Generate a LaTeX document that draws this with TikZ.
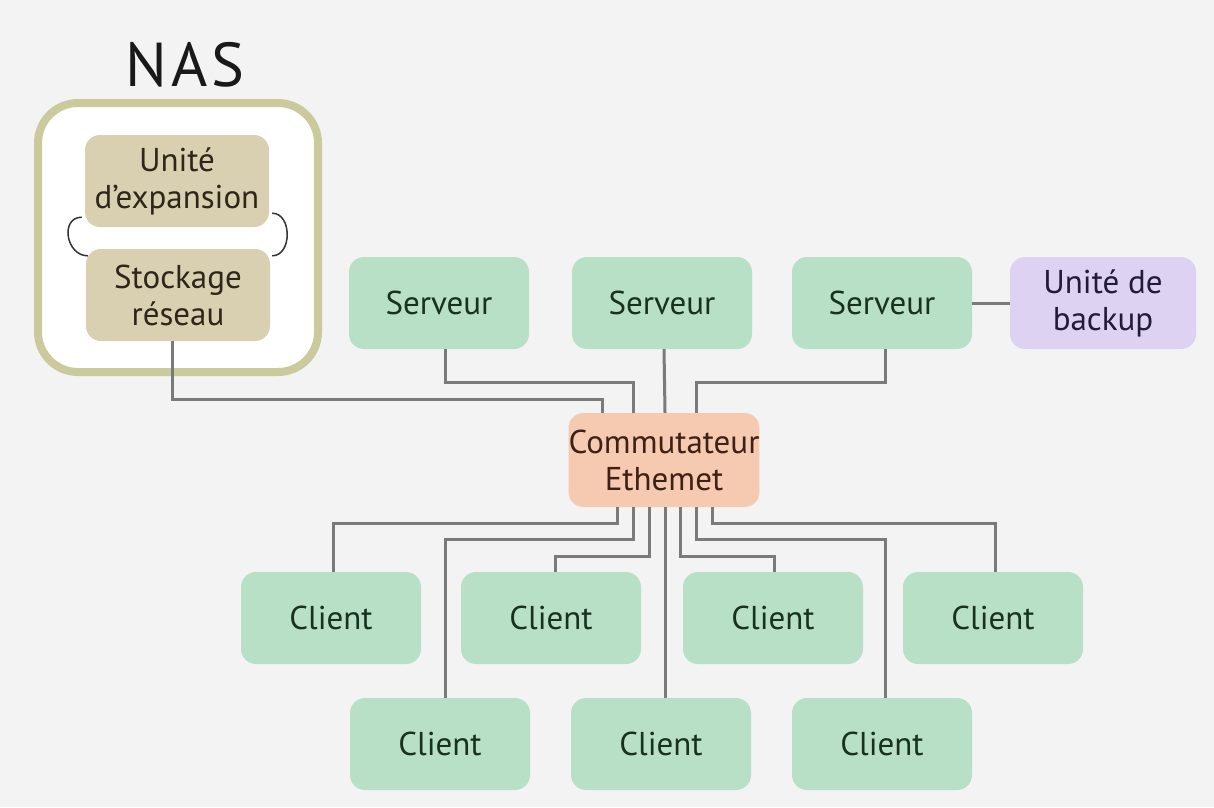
\documentclass[tikz,border=0pt]{standalone}
\usepackage{fontspec}
\setmainfont{PT Sans}
\newfontfamily\nasfont[LetterSpace=6]{PT Sans}
\definecolor{bgc}{HTML}{F3F3F3}
\definecolor{grn}{HTML}{B8E0C6}
\definecolor{grntxt}{HTML}{17321F}
\definecolor{tan}{HTML}{D9CFB1}
\definecolor{tantxt}{HTML}{2E2618}
\definecolor{peach}{HTML}{F5CAB0}
\definecolor{peachtxt}{HTML}{3E2016}
\definecolor{lav}{HTML}{DDD2F2}
\definecolor{lavtxt}{HTML}{221A36}
\definecolor{olive}{HTML}{CACA9C}
\definecolor{wire}{HTML}{7A7A7A}
\tikzset{
  box/.style={rounded corners=15pt, inner sep=0pt, align=center,
    font=\fontsize{33}{37}\selectfont},
  greenbox/.style={box, fill=grn, text=grntxt, minimum width=180pt, minimum height=92pt},
  tanbox/.style={box, fill=tan, text=tantxt, minimum width=184pt, minimum height=92pt},
  conn/.style={draw=wire, line width=3pt},
  link/.style={draw=black!80, line width=1.5pt},
}
\begin{document}
\begin{tikzpicture}[x=1pt,y=-1pt]
\useasboundingbox (0,0) rectangle (1214,807);
\fill[bgc] (0,0) rectangle (1214,807);
% NAS
\node[font=\nasfont\fontsize{62}{62}\selectfont, text=black!90] (nastitle) at (185,65) {NAS};
\draw[olive, line width=8pt, fill=white, rounded corners=40pt] (38,103) rectangle (318,372);
\node[tanbox] (ue) at (177,181) {Unité\\d'expansion};
\node[tanbox] (st) at (178,295) {Stockage\\réseau};
\draw[link] ([shift={(-3,-10)}]ue.south west) .. controls +(-22,0) and +(-22,0) .. ([shift={(2,7)}]st.north west);
\draw[link] ([shift={(3,-14)}]ue.south east) .. controls +(20,0) and +(20,0) .. ([shift={(2,7)}]st.north east);
% servers
\node[greenbox] (s1) at (439,303) {Serveur};
\node[greenbox] (s2) at (662,303) {Serveur};
\node[greenbox] (s3) at (882,303) {Serveur};
\node[box, fill=lav, text=lavtxt, minimum width=186pt, minimum height=92pt] (bk) at (1103,303) {Unité de\\backup};
% switch
\node[box, fill=peach, text=peachtxt, minimum width=188pt, minimum height=94pt] (sw) at (664,460) {Commutateur\\Ethemet};
% clients
\node[greenbox] (c1) at (331,618) {Client};
\node[greenbox] (c2) at (551,618) {Client};
\node[greenbox] (c3) at (773,618) {Client};
\node[greenbox] (c4) at (993,618) {Client};
\node[greenbox] (c5) at (440,744) {Client};
\node[greenbox] (c6) at (661,744) {Client};
\node[greenbox] (c7) at (882,744) {Client};
% connectors top
\draw[conn] ([xshift=-6pt]st.south) -- ++(0,58) -| ([xshift=-62pt]sw.north);
\draw[conn] ([xshift=6pt]s1.south) -- ++(0,33) -| ([xshift=-31pt]sw.north);
\draw[conn] ([xshift=2pt]s2.south) -- ([xshift=1pt]sw.north);
\draw[conn] ([xshift=3pt]s3.south) -- ++(0,33) -| ([xshift=32pt]sw.north);
\draw[conn] (s3.east) -- (bk.west);
% connectors bottom
\draw[conn] ([xshift=-47pt]sw.south) -- ++(0,16) -| ([xshift=2pt]c1.north);
\draw[conn] ([xshift=-31pt]sw.south) -- ++(0,32) -| ([xshift=5pt]c5.north);
\draw[conn] ([xshift=-15pt]sw.south) -- ++(0,49) -| ([xshift=4pt]c2.north);
\draw[conn] ([xshift=1pt]sw.south) -- ([xshift=4pt]c6.north);
\draw[conn] ([xshift=16pt]sw.south) -- ++(0,49) -| ([xshift=1pt]c3.north);
\draw[conn] ([xshift=32pt]sw.south) -- ++(0,32) -| ([xshift=3pt]c7.north);
\draw[conn] ([xshift=48pt]sw.south) -- ++(0,16) -| ([xshift=2pt]c4.north);
\end{tikzpicture}
\end{document}
